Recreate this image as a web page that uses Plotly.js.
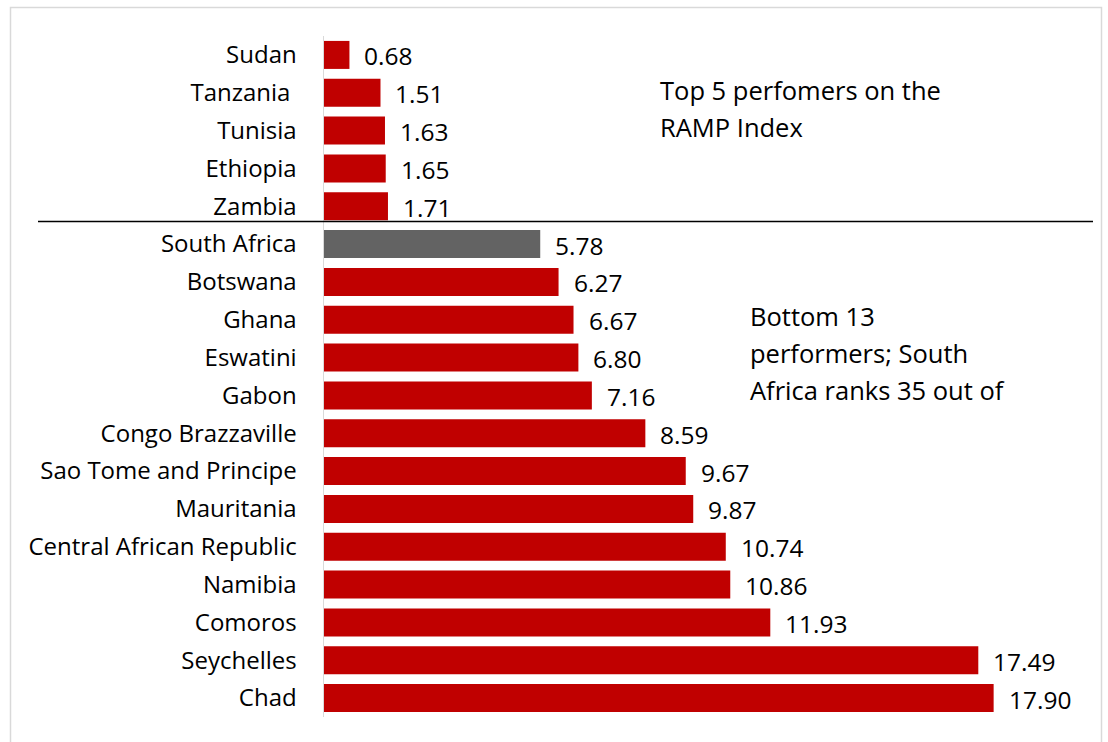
<!DOCTYPE html>
<html>
<head>
<meta charset="utf-8">
<script src="https://cdn.plot.ly/plotly-3.0.1.min.js"></script>
<style>html,body{margin:0;padding:0;background:#fff;}#chart{width:1108px;height:742px;}</style>
</head>
<body>
<div id="chart"></div>
<script>
const countries = ["Sudan","Tanzania\u00a0","Tunisia","Ethiopia","Zambia","South Africa","Botswana","Ghana","Eswatini","Gabon","Congo Brazzaville","Sao Tome and Principe","Mauritania","Central African Republic","Namibia","Comoros","Seychelles","Chad"];
const values = [0.68,1.51,1.63,1.65,1.71,5.78,6.27,6.67,6.80,7.16,8.59,9.67,9.87,10.74,10.86,11.93,17.49,17.90];
const highlight = "South Africa";
const noteTop = ["Top 5 perfomers on the","RAMP Index"];
const noteBottom = ["Bottom 13","performers; South","Africa ranks 35 out of"];

const FONT = "'Open Sans', Lato, sans-serif";
const W = 1108, H = 742, L = 324, R = 14, T = 36, B = 25;
const pw = W - L - R, ph = H - T - B;
const px = x => (x - L) / pw;
const py = y => (H - B - y) / ph;

const colors = countries.map(c => c === highlight ? "#636363" : "#c00000");

const annotations = values.map((v, i) => ({
  x: v, y: countries[i], xref: "x", yref: "y",
  text: v.toFixed(2), showarrow: false, xanchor: "left", yanchor: "middle",
  xshift: 13, yshift: -1, font: {family: FONT, size: 24.5, color: "#000"}
}));
noteTop.forEach((t, i) => annotations.push({
  x: px(658), y: py(90 + i * 37), xref: "paper", yref: "paper", text: t,
  showarrow: false, xanchor: "left", yanchor: "middle",
  font: {family: FONT, size: 25.5, color: "#000"}
}));
noteBottom.forEach((t, i) => annotations.push({
  x: px(748), y: py(316 + i * 37), xref: "paper", yref: "paper", text: t,
  showarrow: false, xanchor: "left", yanchor: "middle",
  font: {family: FONT, size: 25.5, color: "#000"}
}));

const data = [{
  type: "bar", orientation: "h", x: values, y: countries,
  marker: {color: colors}, hoverinfo: "none"
}];

const layout = {
  width: W, height: H,
  margin: {l: L, r: R, t: T, b: B, pad: 0},
  paper_bgcolor: "#fff", plot_bgcolor: "#fff",
  bargap: 0.26,
  showlegend: false,
  xaxis: {range: [0, pw / 37.41], showgrid: false, zeroline: false, showticklabels: false, showline: false, fixedrange: true},
  yaxis: {type: "category", range: [17.5, -0.5], showgrid: false, zeroline: false,
    showline: true, linecolor: "#d9d9d9", linewidth: 1.5, ticks: "", ticklabelstandoff: 21,
    tickfont: {family: FONT, size: 24, color: "#000"}},
  annotations: annotations,
  shapes: [
    {type: "rect", xref: "paper", yref: "paper", x0: px(10.5), x1: px(1101.5), y0: py(760), y1: py(7.5),
      line: {color: "#d9d9d9", width: 1.5}, fillcolor: "rgba(0,0,0,0)"},
    {type: "line", xref: "paper", yref: "y", x0: px(38), x1: px(1093), y0: 4.4, y1: 4.4,
      line: {color: "#000", width: 1.5}}
  ]
};

Plotly.newPlot("chart", data, layout, {displayModeBar: false, staticPlot: true});
</script>
</body>
</html>
